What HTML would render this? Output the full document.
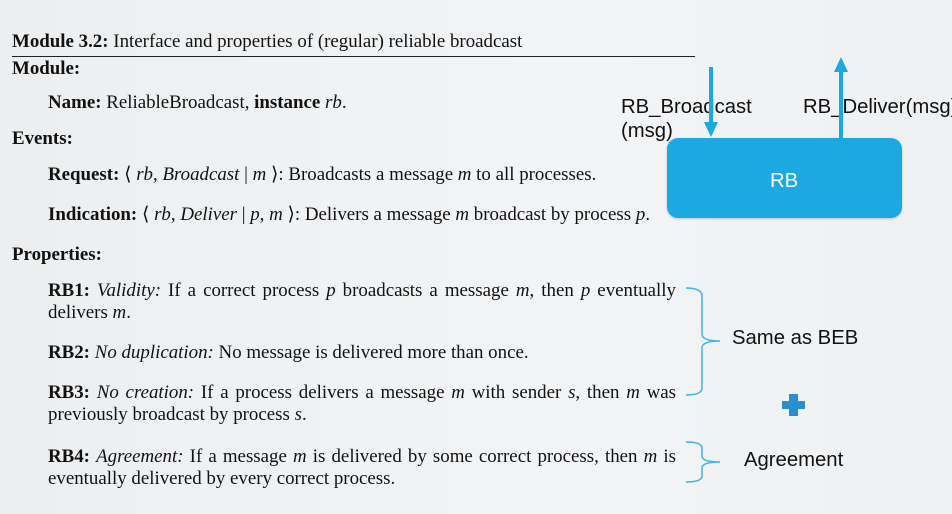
<!DOCTYPE html>
<html><head><meta charset="utf-8"><style>
body{margin:0;width:952px;height:514px;overflow:hidden;background:linear-gradient(90deg,#eceef0,#f3f4f6 60%,#eef0f2);position:relative;font-family:"Liberation Serif",serif;color:#111}
.t{position:absolute;font-size:18.9px;white-space:nowrap;line-height:20px}
.j{position:absolute;font-size:18.9px;width:628px;text-align:justify;text-align-last:justify;line-height:20px;white-space:nowrap}
.s{position:absolute;font-family:"Liberation Sans",sans-serif;font-size:20.3px;color:#111;white-space:nowrap;line-height:22px}
i{font-style:italic}
</style></head><body>
<div class="t" style="left:12px;top:32px"><b>Module 3.2:</b> Interface and properties of (regular) reliable broadcast</div>
<div style="position:absolute;left:12px;top:56px;width:683px;height:1px;background:#222"></div>
<div class="t" style="left:12px;top:59px"><b>Module:</b></div>
<div class="t" style="left:48px;top:93px"><b>Name:</b> ReliableBroadcast, <b>instance</b> <i>rb</i>.</div>
<div class="t" style="left:12px;top:129px"><b>Events:</b></div>
<div class="t" style="left:48px;top:165px"><b>Request:</b> ⟨ <i>rb</i>, <i>Broadcast</i> | <i>m</i> ⟩: Broadcasts a message <i>m</i> to all processes.</div>
<div class="t" style="left:48px;top:205px"><b>Indication:</b> ⟨ <i>rb</i>, <i>Deliver</i> | <i>p</i>, <i>m</i> ⟩: Delivers a message <i>m</i> broadcast by process <i>p</i>.</div>
<div class="t" style="left:12px;top:245px"><b>Properties:</b></div>
<div class="j" style="left:48px;top:281px"><b>RB1:</b> <i>Validity:</i> If a correct process <i>p</i> broadcasts a message <i>m</i>, then <i>p</i> eventually</div>
<div class="t" style="left:48px;top:303px">delivers <i>m</i>.</div>
<div class="t" style="left:48px;top:343px"><b>RB2:</b> <i>No duplication:</i> No message is delivered more than once.</div>
<div class="j" style="left:48px;top:383px"><b>RB3:</b> <i>No creation:</i> If a process delivers a message <i>m</i> with sender <i>s</i>, then <i>m</i> was</div>
<div class="t" style="left:48px;top:405px">previously broadcast by process <i>s</i>.</div>
<div class="j" style="left:48px;top:447px"><b>RB4:</b> <i>Agreement:</i> If a message <i>m</i> is delivered by some correct process, then <i>m</i> is</div>
<div class="t" style="left:48px;top:469px">eventually delivered by every correct process.</div>

<div style="position:absolute;left:667px;top:138px;width:235px;height:80px;background:#1ca9e2;border-radius:11px;box-shadow:0 1px 2px rgba(0,0,0,.2)"></div>
<div class="s" style="left:770px;top:170px;color:#fff">RB</div>
<div class="s" style="left:621px;top:96px">RB_Broadcast</div>
<div class="s" style="left:621px;top:120px">(msg)</div>
<div class="s" style="left:803px;top:96px">RB_Deliver(msg)</div>
<svg width="952" height="514" style="position:absolute;left:0;top:0">
<line x1="711" y1="67" x2="711" y2="124" stroke="#1ca9e2" stroke-width="4"/>
<polygon points="704,122 718,122 711,137" fill="#1ca9e2"/>
<line x1="841" y1="138" x2="841" y2="70" stroke="#1ca9e2" stroke-width="4"/>
<polygon points="834,72 848,72 841,57" fill="#1ca9e2"/>
<path d="M686,288 Q702,288 702,296 L702,334 Q702,341 720,341 Q702,341 702,348 L702,388 Q702,395 686,395" fill="none" stroke="#3db4e6" stroke-width="1.5"/>
<path d="M686,442 Q702,442 702,448 L702,456 Q702,462 720,462 Q702,462 702,468 L702,476 Q702,482 686,482" fill="none" stroke="#3db4e6" stroke-width="1.5"/>
<rect x="782" y="401" width="23" height="8" fill="#2a8fd0"/>
<rect x="789" y="394" width="9" height="22" fill="#2a8fd0"/>
</svg>
<div class="s" style="left:732px;top:327px">Same as BEB</div>
<div class="s" style="left:744px;top:449px">Agreement</div>
</body></html>
